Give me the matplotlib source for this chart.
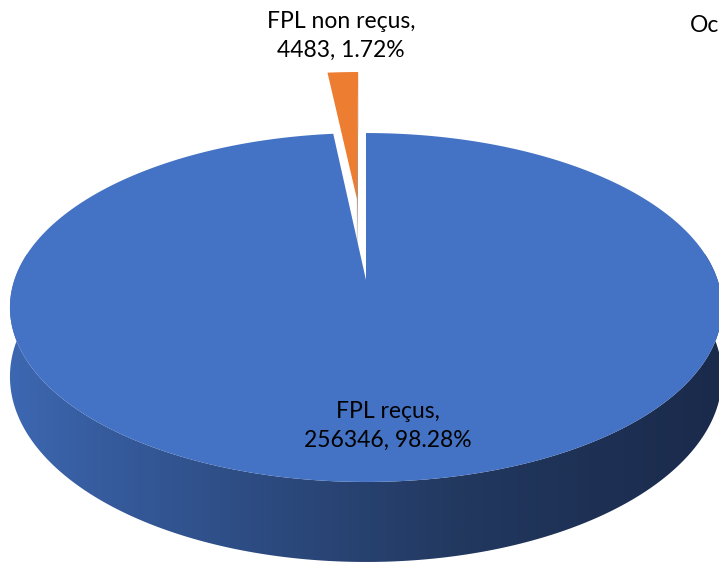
import numpy as np
import matplotlib
matplotlib.use("Agg")
import matplotlib.pyplot as plt
from matplotlib.patches import Polygon

# data
labels = ["FPL reçus", "FPL non reçus"]
values = [256346, 4483]
top_colors = ["#4472C4", "#ED7D31"]
side_color = "#5C3212"
explode = [0.0, 0.515]

plt.rcParams['font.family'] = ['Lato', 'DejaVu Sans']

# perspective used for the 3d look (pixel space)
cx, scale_x = 366.0, 351.6
A, B, C = -126.0, 280.0, 0.1576
H = 67.4


def proj(u, v, z=0.0):
    den = 1.0 + C * v
    return cx + scale_x * u / den, (A * v + B) / den + H * z / den


fig = plt.figure(figsize=(7.19, 5.65), dpi=100)
ax = fig.add_axes([0, 0, 1, 1])
ax.set_xlim(0, 719)
ax.set_ylim(565, 0)
ax.axis('off')

total = sum(values)
fracs = [v / total for v in values]

# slice angles, start at 12 o'clock and go clockwise
starts, ends = [], []
ang = 90.0
for f in fracs:
    starts.append(ang)
    ang -= 360.0 * f
    ends.append(ang)

# gradient for the front wall
cmap = matplotlib.colors.LinearSegmentedColormap.from_list(
    "wall", ["#3D68B2", "#2F4F88", "#22385F", "#1A2A4B"])
grad = np.linspace(0, 1, 512)[None, :] ** 0.9

# draw the exploded (back) slice first
for i in [1, 0]:
    mid = np.radians((starts[i] + ends[i]) / 2)
    ox, oy = explode[i] * np.cos(mid), explode[i] * np.sin(mid)
    th = np.radians(np.linspace(starts[i], ends[i], 400))
    us = ox + np.cos(th)
    vs = oy + np.sin(th)

    if i == 1:
        # radial side face at the end angle
        te = np.radians(ends[i])
        pts = [proj(ox, oy, 0), proj(ox + np.cos(te), oy + np.sin(te), 0),
               proj(ox + np.cos(te), oy + np.sin(te), 1), proj(ox, oy, 1)]
        ax.add_patch(Polygon(pts, closed=True, facecolor=side_color, edgecolor='none'))
    else:
        # outer wall, front half
        tw = np.radians(np.linspace(-189.07, 9.07, 400))
        upper = [proj(np.cos(a), np.sin(a), 0) for a in tw]
        lower = [proj(np.cos(a), np.sin(a), 1) for a in tw[::-1]]
        wall = Polygon(upper + lower, closed=True, facecolor='none', edgecolor='none')
        ax.add_patch(wall)
        im = ax.imshow(grad, cmap=cmap, extent=(8, 724, 565, 250), aspect='auto',
                       interpolation='bilinear', zorder=1)
        im.set_clip_path(wall)

    top = [proj(ox, oy, 0)] + [proj(u, v, 0) for u, v in zip(us, vs)]
    ax.add_patch(Polygon(top, closed=True, facecolor=top_colors[i], edgecolor='none', zorder=2))

ax.set_xlim(0, 719)
ax.set_ylim(565, 0)

# data labels
ax.text(341, 36, f"{labels[1]},\n{values[1]}, {fracs[1] * 100:.2f}%", ha='center', va='center',
        fontsize=16.5, linespacing=1.5, color='black', zorder=5)
ax.text(388, 426, f"{labels[0]},\n{values[0]}, {fracs[0] * 100:.2f}%", ha='center', va='center',
        fontsize=16.5, linespacing=1.5, color='black', zorder=5)

ax.text(690, 25, "Oc", ha='left', va='center', fontsize=16.5, color='black')

fig.savefig("out.png", dpi=100, facecolor='white')
